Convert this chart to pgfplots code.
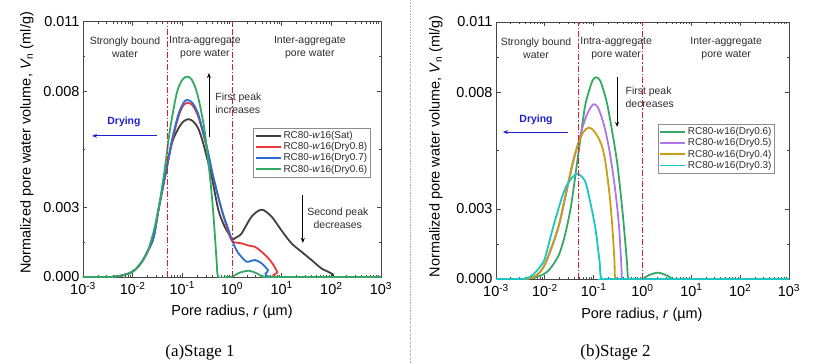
\documentclass[border=0pt]{standalone}
\usepackage{fontspec}
\setmainfont{Liberation Sans}
\newfontfamily\timesfont{Liberation Serif}
\usepackage{pgfplots}
\pgfplotsset{compat=1.18}
\usetikzlibrary{arrows.meta}
\definecolor{cSat}{RGB}{64,64,64}
\definecolor{cD8}{RGB}{232,58,58}
\definecolor{cD7}{RGB}{40,110,212}
\definecolor{cD6}{RGB}{52,168,100}
\definecolor{cD5}{RGB}{178,118,228}
\definecolor{cD4}{RGB}{200,158,20}
\definecolor{cD3}{RGB}{28,196,196}
\definecolor{cRed}{RGB}{222,30,40}
\definecolor{cBlue}{RGB}{30,30,210}
\definecolor{cTxt}{RGB}{45,45,45}
\tikzset{
  ann/.style={font=\fontsize{10.5}{13}\selectfont, text=cTxt, align=center},
  vl/.style={draw={rgb,255:red,222;green,30;blue,40}, line width=1bp, dash pattern=on 6bp off 2bp on 1.5bp off 2bp},
}
\begin{document}
\begin{tikzpicture}[x=1bp,y=1bp]
\useasboundingbox (0,0) rectangle (817,363);
% ---------------- Panel (a)
\begin{axis}[at={(83bp,86bp)}, anchor=south west, width=298bp, height=255.3bp,
    scale only axis, xmode=log, xmin=1e-3, xmax=1e3, ymin=0, ymax=0.011,
    tick align=inside, scaled y ticks=false,
    xtick={1e-3,1e-2,1e-1,1,1e1,1e2,1e3},
    xticklabels={10\textsuperscript{-3},10\textsuperscript{-2},10\textsuperscript{-1},10\textsuperscript{0},10\textsuperscript{1},10\textsuperscript{2},10\textsuperscript{3}},
    minor xtick={0.002,0.003,0.004,0.005,0.006,0.007,0.008,0.009,0.02,0.03,0.04,0.05,0.06,0.07,0.08,0.09,0.2,0.3,0.4,0.5,0.6,0.7,0.8,0.9,2,3,4,5,6,7,8,9,20,30,40,50,60,70,80,90,200,300,400,500,600,700,800,900},
    ytick={0,0.003,0.008,0.011},
    yticklabels={0.000,0.003,0.008,0.011},
    minor ytick={0.0015,0.0055,0.0095},
    axis line style={black!72, line width=0.9bp},
    major tick style={black!72, line width=0.7bp},
    minor tick style={black!72, line width=0.6bp},
    major tick length=4.5bp, minor tick length=2.5bp,
    tick label style={font=\fontsize{14.5}{16}\selectfont},
    xticklabel style={yshift=-1.5bp},
    xlabel style={font=\fontsize{14.5}{17}\selectfont, at={(axis description cs:0.5,-0.137)}, anchor=center},
    ylabel style={font=\fontsize{14.5}{17}\selectfont, at={(axis description cs:-0.188,0.525)}, anchor=center},
    xlabel={Pore radius, \textit{r} (µm)},
    ylabel={Normalized pore water volume, \textit{V}\textsubscript{n} (ml/g)},
    legend style={font=\fontsize{10}{11.5}\selectfont, draw=black!45, line width=0.5bp,
      inner sep=1.2bp, row sep=-1.5bp, text=cTxt, at={(0.965,0.584)}, anchor=north east},
    legend image code/.code={\draw[#1, solid, line width=1.8bp] (0bp,0bp) -- (25bp,0bp);},
    legend cell align=left]
\addplot[cSat, line width=1.8bp, smooth, tension=0.5] coordinates {(0.001,0) (0.0035,0) (0.004,0.00001) (0.005,0.00003) (0.006,0.00006) (0.007,0.0001) (0.0088,0.00017) (0.011,0.0003) (0.0135,0.0005) (0.0163,0.00075) (0.02,0.0011) (0.0263,0.0017) (0.0331,0.0029) (0.0447,0.00432) (0.0617,0.00576) (0.0832,0.0064) (0.105,0.0067) (0.132,0.0068) (0.166,0.0067) (0.209,0.0064) (0.263,0.00576) (0.389,0.00432) (0.53,0.0029) (0.7,0.0022) (0.84,0.0019) (1.0,0.00162) (1.2,0.0017) (1.56,0.00188) (2.48,0.0026) (3.94,0.0029) (6.27,0.0026) (9.96,0.002) (15.8,0.00145) (25,0.00109) (40,0.00073) (63,0.00037) (86,0.00023) (109,0.0001) (120,0) (1000,0)};
\addlegendentry{RC80-\textit{w}16(Sat)}
\addplot[cD8, line width=1.8bp, smooth, tension=0.5] coordinates {(0.001,0) (0.0035,0) (0.004,0.00001) (0.005,0.00003) (0.006,0.00006) (0.007,0.0001) (0.0088,0.00017) (0.011,0.0003) (0.0135,0.0005) (0.0163,0.00075) (0.02,0.0011) (0.0263,0.0017) (0.0331,0.0029) (0.0447,0.00432) (0.0617,0.0058) (0.0832,0.0069) (0.105,0.0074) (0.128,0.0075) (0.16,0.0074) (0.21,0.0069) (0.3,0.0057) (0.42,0.0043) (0.62,0.0029) (0.8,0.0021) (1.0,0.00155) (1.25,0.00148) (1.56,0.00145) (2.2,0.00135) (2.9,0.0013) (3.94,0.00109) (5.8,0.00073) (7.2,0.00044) (8.2,0.0002) (9.1,0) (1000,0)};
\addlegendentry{RC80-\textit{w}16(Dry0.8)}
\addplot[cD7, line width=1.8bp, smooth, tension=0.5] coordinates {(0.001,0) (0.0035,0) (0.004,0.00001) (0.005,0.00003) (0.006,0.00006) (0.007,0.0001) (0.0088,0.00017) (0.011,0.0003) (0.0135,0.0005) (0.0163,0.00075) (0.02,0.0011) (0.0263,0.0017) (0.0331,0.0029) (0.0447,0.00432) (0.0617,0.0059) (0.0832,0.0070) (0.105,0.0075) (0.125,0.00763) (0.16,0.0075) (0.21,0.0070) (0.3,0.00576) (0.42,0.00432) (0.62,0.0029) (0.8,0.0022) (1.0,0.0016) (1.2,0.0012) (1.44,0.00095) (1.97,0.00066) (2.9,0.00073) (3.94,0.00059) (5.3,0.0003) (6.8,0) (1000,0)};
\addlegendentry{RC80-\textit{w}16(Dry0.7)}
\addplot[cD6, line width=1.8bp, smooth, tension=0.5] coordinates {(0.001,0) (0.0035,0) (0.004,0.00001) (0.005,0.00003) (0.006,0.00006) (0.007,0.0001) (0.0088,0.00017) (0.011,0.0003) (0.0135,0.0005) (0.0163,0.00075) (0.02,0.0011) (0.026,0.0019) (0.0342,0.0031) (0.0446,0.0047) (0.056,0.0063) (0.0768,0.0079) (0.1,0.0085) (0.125,0.00863) (0.155,0.0085) (0.2,0.0079) (0.272,0.0065) (0.332,0.005) (0.389,0.0036) (0.439,0.0022) (0.49,0.0007) (0.53,0) (0.8,0) (1.0,0) (1.33,0.00016) (2.15,0.00027) (3.37,0.00013) (4.2,0) (6,0) (1000,0)};
\addlegendentry{RC80-\textit{w}16(Dry0.6)}
\draw[vl] (axis cs:0.05,0) -- (axis cs:0.05,0.011);
\draw[vl] (axis cs:1,0) -- (axis cs:1,0.011);
\node[ann] at (axis cs:0.007,0.0099) {Strongly bound\\water};
\node[ann] at (axis cs:0.285,0.0099) {Intra-aggregate\\pore water};
\node[ann] at (axis cs:36.9,0.0099) {Inter-aggregate\\pore water};
\draw[cBlue, line width=0.9bp, -{Stealth[length=5bp,width=4bp]}] (axis cs:0.0308,0.00608) -- (axis cs:0.00152,0.00608);
\node[font=\fontsize{10.5}{12}\selectfont\bfseries, text=cBlue] at (axis cs:0.00668,0.00668) {Drying};
\draw[black, line width=0.8bp, -{Stealth[length=5bp,width=4bp]}] (axis cs:0.343,0.00603) -- (axis cs:0.343,0.00879);
\node[ann, anchor=west, align=left] at (axis cs:0.394,0.00748) {First peak\\increases};
\draw[black, line width=0.8bp, -{Stealth[length=5bp,width=4bp]}] (axis cs:26.7,0.00353) -- (axis cs:26.7,0.00147);
\node[ann] at (axis cs:135,0.00252) {Second peak\\decreases};
\end{axis}
% ---------------- Panel (b)
\begin{axis}[at={(496bp,84bp)}, anchor=south west, width=293bp, height=257bp,
    scale only axis, xmode=log, xmin=1e-3, xmax=1e3, ymin=0, ymax=0.011,
    tick align=inside, scaled y ticks=false,
    xtick={1e-3,1e-2,1e-1,1,1e1,1e2,1e3},
    xticklabels={10\textsuperscript{-3},10\textsuperscript{-2},10\textsuperscript{-1},10\textsuperscript{0},10\textsuperscript{1},10\textsuperscript{2},10\textsuperscript{3}},
    minor xtick={0.002,0.003,0.004,0.005,0.006,0.007,0.008,0.009,0.02,0.03,0.04,0.05,0.06,0.07,0.08,0.09,0.2,0.3,0.4,0.5,0.6,0.7,0.8,0.9,2,3,4,5,6,7,8,9,20,30,40,50,60,70,80,90,200,300,400,500,600,700,800,900},
    ytick={0,0.003,0.008,0.011},
    yticklabels={0.000,0.003,0.008,0.011},
    minor ytick={0.0015,0.0055,0.0095},
    axis line style={black!72, line width=0.9bp},
    major tick style={black!72, line width=0.7bp},
    minor tick style={black!72, line width=0.6bp},
    major tick length=4.5bp, minor tick length=2.5bp,
    tick label style={font=\fontsize{14.5}{16}\selectfont},
    xticklabel style={yshift=-1.5bp},
    xlabel style={font=\fontsize{14.5}{17}\selectfont, at={(axis description cs:0.498,-0.14)}, anchor=center},
    ylabel style={font=\fontsize{14.5}{17}\selectfont, at={(axis description cs:-0.205,0.517)}, anchor=center},
    xlabel={Pore radius, \textit{r} (µm)},
    ylabel={Normalized pore water volume, \textit{V}\textsubscript{n} (ml/g)},
    legend style={font=\fontsize{10}{11.5}\selectfont, draw=black!45, line width=0.5bp,
      inner sep=1.2bp, row sep=-1.5bp, text=cTxt, at={(0.952,0.603)}, anchor=north east},
    legend image code/.code={\draw[#1, solid, line width=1.8bp] (0bp,0bp) -- (25bp,0bp);},
    legend cell align=left]
\addplot[cD6, line width=1.8bp, smooth, tension=0.5] coordinates {(0.001,0) (0.0035,0) (0.004,0.00001) (0.005,0.00003) (0.006,0.00006) (0.007,0.0001) (0.0088,0.00017) (0.011,0.0003) (0.0135,0.0005) (0.0163,0.00075) (0.02,0.0011) (0.026,0.0019) (0.0342,0.0031) (0.0446,0.0048) (0.0646,0.00723) (0.0778,0.00795) (0.095,0.0085) (0.112,0.00863) (0.135,0.0085) (0.166,0.00795) (0.2,0.00723) (0.297,0.0051) (0.387,0.00295) (0.477,0.00081) (0.52,0) (0.8,0) (1.0,0) (1.33,0.00016) (2.1,0.00027) (3.3,0.00013) (4.2,0) (6,0) (1000,0)};
\addlegendentry{RC80-\textit{w}16(Dry0.6)}
\addplot[cD5, line width=1.8bp, smooth, tension=0.5] coordinates {(0.001,0) (0.0035,0) (0.0046,0.00002) (0.006,0.0001) (0.008,0.0003) (0.011,0.0008) (0.019,0.0022) (0.027,0.0036) (0.038,0.005) (0.048,0.0058) (0.0597,0.00652) (0.075,0.0071) (0.0986,0.00748) (0.125,0.0073) (0.166,0.00652) (0.21,0.0055) (0.254,0.00438) (0.295,0.0033) (0.331,0.00224) (0.355,0.0012) (0.375,0.0003) (0.385,0) (0.6,0) (1000,0)};
\addlegendentry{RC80-\textit{w}16(Dry0.5)}
\addplot[cD4, line width=1.8bp, smooth, tension=0.5] coordinates {(0.001,0) (0.0035,0) (0.0046,0.00002) (0.006,0.0001) (0.008,0.0003) (0.0109,0.00081) (0.0189,0.00224) (0.0268,0.00367) (0.0384,0.0051) (0.0485,0.0058) (0.062,0.0063) (0.0805,0.00648) (0.105,0.0063) (0.141,0.0058) (0.171,0.0051) (0.21,0.00367) (0.241,0.00224) (0.266,0.00081) (0.283,0) (0.45,0) (1000,0)};
\addlegendentry{RC80-\textit{w}16(Dry0.4)}
\addplot[cD3, line width=1.8bp, smooth, tension=0.5] coordinates {(0.001,0) (0.003,0) (0.0039,0.00001) (0.005,0.0001) (0.0065,0.0003) (0.0085,0.0006) (0.0101,0.0009) (0.0149,0.00224) (0.0239,0.00367) (0.033,0.00424) (0.0463,0.0045) (0.0646,0.00424) (0.0778,0.00367) (0.107,0.00224) (0.131,0.00081) (0.146,0) (0.25,0) (1000,0)};
\addlegendentry{RC80-\textit{w}16(Dry0.3)}
\draw[vl] (axis cs:0.05,0) -- (axis cs:0.05,0.011);
\draw[vl] (axis cs:1,0) -- (axis cs:1,0.011);
\node[ann] at (axis cs:0.0066,0.00987) {Strongly bound\\water};
\node[ann] at (axis cs:0.288,0.00987) {Intra-aggregate\\pore water};
\node[ann] at (axis cs:51.6,0.00987) {Inter-aggregate\\pore water};
\draw[cBlue, line width=0.9bp, -{Stealth[length=5bp,width=4bp]}] (axis cs:0.0299,0.00629) -- (axis cs:0.00139,0.00629);
\node[font=\fontsize{10.5}{12}\selectfont\bfseries, text=cBlue] at (axis cs:0.0066,0.0068) {Drying};
\draw[black, line width=0.8bp, -{Stealth[length=5bp,width=4bp]}] (axis cs:0.302,0.00865) -- (axis cs:0.302,0.00651);
\node[ann, anchor=west, align=left] at (axis cs:0.382,0.00777) {First peak\\decreases};
\end{axis}
\draw[black!30, densely dotted, line width=0.6bp] (410,0) -- (410,363);
\node[font=\timesfont\fontsize{17}{20}\selectfont] at (200,10.5) {(a)Stage 1};
\node[font=\timesfont\fontsize{17}{20}\selectfont] at (615.5,10.5) {(b)Stage 2};
\end{tikzpicture}
\end{document}
